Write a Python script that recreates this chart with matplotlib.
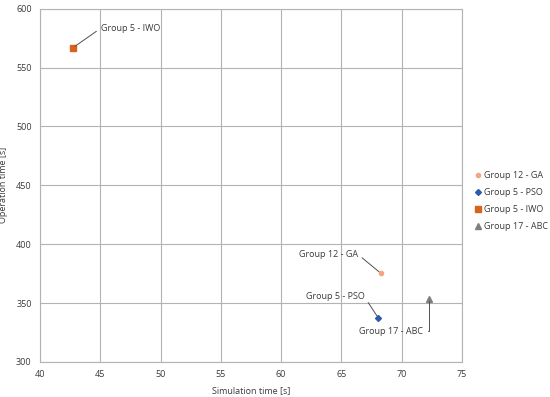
import matplotlib
matplotlib.use("Agg")
import matplotlib.pyplot as plt
from matplotlib.lines import Line2D

plt.rcParams['font.family'] = ['Open Sans', 'DejaVu Sans']

# Data
names = ["Group 12 - GA", "Group 5 - PSO", "Group 5 - IWO", "Group 17 - ABC"]
sim_time = [68.25, 68.05, 42.75, 72.3]
op_time = [375.5, 337.5, 567.0, 353.5]
markers = ["o", "D", "s", "^"]
colors = ["#F4A582", "#2E5AAC", "#D9621C", "#7F7F7F"]
sizes = [3.0, 3.0, 4.0, 4.0]
# label text anchor positions (data coords) and alignment
label_pos = [(66.35, 391.5), (66.9, 355.5), (45.05, 583.5), (71.8, 326.0)]
label_ha = ["right", "right", "left", "right"]
label_conn = ["arc3", "arc3", "arc3", "angle,angleA=0,angleB=90,rad=0"]

TXT = '#3A3A3A'
fig = plt.figure(figsize=(5.5, 3.97), dpi=100)
ax = fig.add_axes([40/550, 35/397, (462-40)/550, (362-8.7)/397])

for x, y, m, c, s in zip(sim_time, op_time, markers, colors, sizes):
    ax.plot([x], [y], linestyle='none', marker=m, color=c, markersize=s, zorder=3)

for name, x, y, (tx, ty), ha, cs in zip(names, sim_time, op_time, label_pos, label_ha, label_conn):
    rel = (1, 0.5) if ha == "right" else (0, 0.5)
    ax.annotate(name, xy=(x, y), xytext=(tx, ty), textcoords='data',
                ha=ha, va='center', fontsize=6.5, color=TXT,
                arrowprops=dict(arrowstyle='-', color='#505050', lw=0.7,
                                relpos=rel, shrinkA=1.5, shrinkB=1.5,
                                connectionstyle=cs), zorder=4)

ax.set_xlim(40, 75)
ax.set_ylim(300, 600)
ax.set_xticks(range(40, 76, 5))
ax.set_yticks(range(300, 601, 50))
ax.grid(True, color='#B3B3B3', linewidth=0.8)
ax.set_axisbelow(True)
for sp in ax.spines.values():
    sp.set_color('#B3B3B3')
    sp.set_linewidth(0.8)
ax.tick_params(length=0, labelsize=6.5, colors=TXT, pad=6)
ax.set_xlabel("Simulation time [s]", fontsize=6.5, color=TXT, labelpad=5)
ax.set_ylabel("Operation time [s]", fontsize=6.5, color=TXT, labelpad=6)

handles = [Line2D([], [], linestyle='none', marker=m, color=c, markersize=s)
           for m, c, s in zip(markers, colors, sizes)]
fig.legend(handles, names, loc='center left', bbox_to_anchor=(470/550, 1 - 201/397),
           frameon=False, fontsize=6.5, handletextpad=0.1, handlelength=1.0,
           labelspacing=0.9, borderaxespad=0, labelcolor=TXT)

fig.savefig("out.png", dpi=100)
